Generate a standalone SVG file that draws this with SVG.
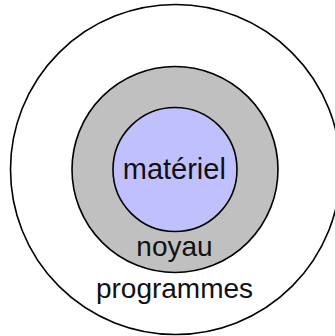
<svg xmlns="http://www.w3.org/2000/svg" width="335" height="336" viewBox="0 0 335 336">
<style>
.ring{stroke:#000;stroke-width:1.6}
.lbl{font-family:"Liberation Sans",Arial,sans-serif;font-size:28px;fill:#111;text-anchor:middle}
</style>
<rect width="335" height="336" fill="#fff"/>
<g id="programmes">
<circle class="ring" cx="175.5" cy="169.5" r="165" fill="#fff"/>
<text class="lbl" x="174.5" y="298">programmes</text>
</g>
<g id="noyau">
<circle class="ring" cx="175" cy="169.5" r="103" fill="#c0c0c0"/>
<text class="lbl" x="174.5" y="256">noyau</text>
</g>
<g id="materiel">
<circle class="ring" cx="175" cy="169.5" r="62" fill="#c0c0ff"/>
<text class="lbl" x="174.3" y="179.3" style="font-size:29px">matériel</text>
</g>
<g id="connectors"/>
</svg>
